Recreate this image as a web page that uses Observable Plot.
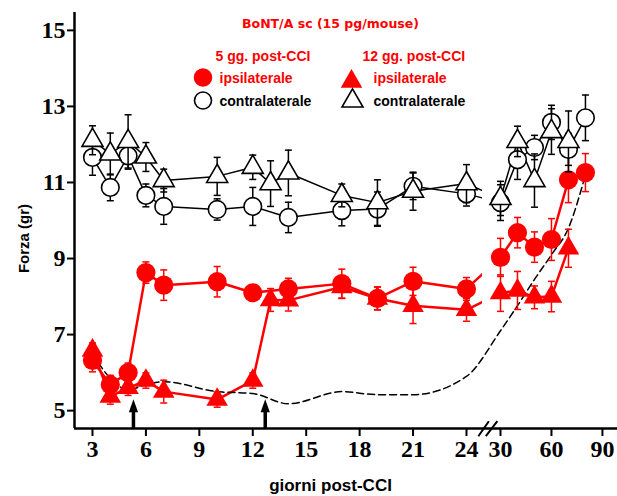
<!DOCTYPE html>
<html><head><meta charset="utf-8">
<script src="https://cdn.jsdelivr.net/npm/d3@7"></script>
<script src="https://cdn.jsdelivr.net/npm/@observablehq/plot@0.6"></script>
<style>body{margin:0;background:#fff}#chart{width:617px;height:496px}</style>
</head><body><div id="chart"></div>
<script>
// ---- data ----
const daysCirc = [3,4,5,6,7,10,12,14,17,19,21,24,30,40,50,60,70,80];
const daysTri  = [3,4,5,6,7,10,12,13,14,17,19,21,24,30,40,50,60,70];
// 5 gg post-CCI (circles)
const ipsi5     = [6.32,5.68,6.0,8.63,8.3,8.39,8.1,8.2,8.34,7.95,8.4,8.2,9.03,9.68,9.3,9.5,11.07,11.26];
const ipsi5Err  = [0.3,0.25,0.25,0.28,0.4,0.4,0.2,0.28,0.38,0.3,0.37,0.3,0.5,0.4,0.4,0.55,0.6,0.5];
const contra5   = [11.66,10.87,11.7,10.66,10.37,10.29,10.37,10.08,10.26,10.3,10.9,10.7,10.47,11.6,11.92,12.58,11.87,12.7];
const contra5Err= [0.47,0.35,0.35,0.3,0.47,0.28,0.5,0.4,0.4,0.45,0.35,0.32,0.47,0.52,0.32,0.45,0.42,0.6];
// 12 gg post-CCI (triangles)
const ipsi12     = [6.58,5.37,5.6,5.79,5.5,5.29,5.79,7.91,7.9,8.25,7.95,7.76,7.65,8.09,8.16,7.98,8.0,9.27];
const ipsi12Err  = [0.2,0.2,0.2,0.2,0.3,0.2,0.2,0.3,0.28,0.3,0.3,0.47,0.3,0.48,0.5,0.3,0.4,0.5];
const contra12   = [12.11,11.75,12.08,11.67,11.05,11.16,11.4,10.97,11.25,10.66,10.47,10.77,10.97,10.58,12.08,11.05,12.34,12.08];
const contra12Err= [0.38,0.55,0.7,0.38,0.3,0.5,0.32,0.6,0.6,0.3,0.6,0.5,0.5,0.45,0.4,0.7,0.6,0.8];
// dashed reference curve
const refDays = [3,4,5,6,7,10,12,14,17,19,21,24,30,40,50,60,70,80];
const refVals = [6.5,5.85,5.55,5.68,5.76,5.5,5.45,5.18,5.5,5.42,5.42,5.9,7.1,7.76,8.45,9.1,9.8,11.2];
// injection arrows
const arrowDays = [5.3, 12.7];
const arrowTip = 5.3;
// ticks
const xTickDays = [3,6,9,12,15,18,21,24,30,60,90];
const yTicks = [5,7,9,11,13,15];

// ---- broken x axis: days -> position ----
function pos(d){ return d <= 24 ? d : 25.91 + (d - 30) * 0.0954; }
const xDomain = [1.99, 32.48], yDomain = [4.53, 15.47];
const breakGap = [24.9, 25.6], breakAt = 25.2;

const rows = (days, v, e) => days.map((d,i) => ({day:d, v:v[i], e:e[i]}));
const RC = rows(daysCirc, ipsi5, ipsi5Err);
const BC = rows(daysCirc, contra5, contra5Err);
const RT = rows(daysTri, ipsi12, ipsi12Err);
const BT = rows(daysTri, contra12, contra12Err);
const REF = refDays.map((d,i)=>({day:d, v:refVals[i]}));
const caps = R => R.flatMap(d => [{day:d.day, y:d.v+d.e},{day:d.day, y:d.v-d.e}]);

const capSymbol = {draw(ctx, size){ const w = Math.sqrt(size/Math.PI); ctx.moveTo(-w,0); ctx.lineTo(w,0); }};
const headSymbol = {draw(ctx){ ctx.moveTo(0,0); ctx.lineTo(4.6,13); ctx.lineTo(-4.6,13); ctx.closePath(); }};
const breakSymbol = {draw(ctx){ ctx.moveTo(-9.5,7.7); ctx.lineTo(1,-7.3); ctx.moveTo(-2,7.7); ctx.lineTo(9.5,-7.3); }};

const X = d => pos(d.day);
const RED = "#ff0000";

function series(R, color, symbol, r, lineW, filled){
  return [
    Plot.ruleX(R, {x: X, y1: d=>d.v-d.e, y2: d=>d.v+d.e, stroke: color, strokeWidth: 1.5}),
    Plot.dot(caps(R), {x: X, y: "y", symbol: capSymbol, r: 3.5, stroke: color, strokeWidth: 1.5, fill: "none"}),
    Plot.dot(R, {x: X, y: "v", symbol, r, fill: filled ? color : "white", stroke: filled ? "none" : color, strokeWidth: 1.6})
  ];
}
const lineOf = (R, color, w) => Plot.line(R, {x: X, y: "v", stroke: color, strokeWidth: w});

const F0 = {frameAnchor: "top-left"};
const legTxt = (t, dx, dy, fill, extra={}) => Plot.text([t], {...F0, text: d=>d, dx, dy, fill, textAnchor: "start", lineAnchor: "middle", fontSize: 14, fontWeight: "bold", fontFamily: "Liberation Sans", ...extra});

const tickFont = {fontSize: 24, fontWeight: "bold", fontFamily: "Liberation Serif"};
const xLabel = new Map(xTickDays.map(d => [pos(d), String(d)]));

const chart = Plot.plot({
  width: 617, height: 496,
  marginLeft: 74, marginRight: 0, marginTop: 12, marginBottom: 68,
  x: {domain: xDomain, axis: null},
  y: {domain: yDomain, axis: null},
  style: {background: "white", fontFamily: "Liberation Sans", overflow: "visible"},
  marks: [
    lineOf(RC, RED, 2.5),
    lineOf(RT, RED, 2.5),
    lineOf(BC, "black", 1.5),
    lineOf(BT, "black", 1.5),
    Plot.rect([0], {x1: breakGap[0], x2: breakGap[1], y1: 4.9, y2: 15.4, fill: "white"}),
    Plot.line(REF, {x: X, y: "v", stroke: "black", strokeWidth: 1.5, strokeDasharray: "7,4", curve: "monotone-x"}),
    ...series(RC, RED, "circle", 9.6, 2.5, true),
    ...series(RT, RED, "triangle", 8, 2.5, true),
    ...series(BC, "black", "circle", 8.8, 1.5, false),
    ...series(BT, "black", "triangle", 7.8, 1.5, false),
    // arrows
    Plot.ruleX(arrowDays, {x: d=>d, y1: yDomain[0], y2: arrowTip - 0.3, stroke: "black", strokeWidth: 3.5}),
    Plot.dot(arrowDays, {x: d=>d, y: arrowTip, symbol: headSymbol, r: 5, fill: "black", stroke: "none"}),
    // axes
    Plot.ruleY([yDomain[0]], {stroke: "black", strokeWidth: 2.5}),
    Plot.ruleX([xDomain[0]], {stroke: "black", strokeWidth: 2.5}),
    Plot.dot([breakAt], {x: d=>d, y: yDomain[0], symbol: breakSymbol, r: 5, stroke: "black", strokeWidth: 2, fill: "none"}),
    Plot.axisX(xTickDays.map(pos), {tickFormat: p => xLabel.get(p), tickSize: 8, tickPadding: 3, strokeWidth: 2, label: null, ...tickFont}),
    Plot.axisY(yTicks, {anchor: "left", tickSize: 7, tickPadding: 2, strokeWidth: 2, label: null, ...tickFont}),
    Plot.text(["Forza (gr)"], {...F0, text: d=>d, dx: -50, dy: 226, rotate: -90, textAnchor: "middle", lineAnchor: "middle", fontSize: 15, fontWeight: "bold", fontFamily: "Liberation Sans"}),
    Plot.text(["giorni post-CCI"], {...F0, text: d=>d, dx: 256, dy: 473, textAnchor: "middle", lineAnchor: "middle", fontSize: 17, fontWeight: "bold", fontFamily: "Liberation Sans"}),
    // legend
    Plot.text(["BoNT/A sc (15 pg/mouse)"], {...F0, text: d=>d, dx: 256, dy: 11.5, textAnchor: "middle", lineAnchor: "middle", fontSize: 12.5, fontWeight: "bold", fontFamily: "DejaVu Sans", fill: RED}),
    legTxt("5 gg. post-CCI", 141, 44, RED),
    legTxt("12 gg. post-CCI", 288, 44, RED),
    Plot.dot([0], {...F0, dx: 128.5, dy: 65, r: 9.3, fill: RED}),
    legTxt("ipsilaterale", 145, 66, RED),
    Plot.dot([0], {...F0, dx: 128.5, dy: 88, r: 8.5, fill: "white", stroke: "black", strokeWidth: 1.6}),
    legTxt("contralaterale", 145, 89, "black"),
    Plot.dot([0], {...F0, dx: 277, dy: 69, r: 8, symbol: "triangle", fill: RED}),
    legTxt("ipsilaterale", 299, 66, RED),
    Plot.dot([0], {...F0, dx: 278, dy: 88.5, r: 7.8, symbol: "triangle", fill: "white", stroke: "black", strokeWidth: 1.6}),
    legTxt("contralaterale", 299, 89, "black")
  ]
});
document.getElementById("chart").append(chart);
</script>
</body></html>
